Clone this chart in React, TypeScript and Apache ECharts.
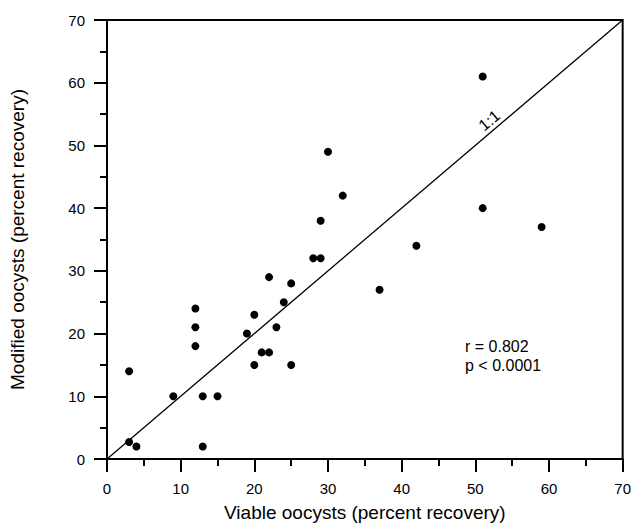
import React, { useEffect, useRef } from "react";
import * as echarts from "echarts";

const viable = [3, 3, 4, 9, 12, 12, 12, 13, 13, 15, 19, 20, 20, 21, 22, 22, 23, 24, 25, 25, 28, 29, 29, 30, 32, 37, 42, 51, 51, 59];
const modified = [14, 2.7, 2, 10, 24, 21, 18, 10, 2, 10, 20, 23, 15, 17, 17, 29, 21, 25, 28, 15, 32, 32, 38, 49, 42, 27, 34, 61, 40, 37];
const axisTicks = [0, 10, 20, 30, 40, 50, 60, 70];
const identityLine = [[0, 0], [70, 70]];
const identityLabelAt = 52.6;
const statsLines = ["r = 0.802", "p < 0.0001"];

const FONT = "Liberation Sans, Arial, Helvetica, sans-serif";

export default function App() {
  const ref = useRef<HTMLDivElement>(null);
  useEffect(() => {
    if (!ref.current) return;
    const chart = echarts.init(ref.current, undefined, { renderer: "svg" });
    const axisMin = axisTicks[0];
    const axisMax = axisTicks[axisTicks.length - 1];
    const interval = axisTicks[1] - axisTicks[0];
    const axisCommon = {
      type: "value" as const,
      min: axisMin,
      max: axisMax,
      interval,
      axisLine: { show: true, onZero: false, lineStyle: { color: "#000", width: 2 } },
      axisTick: { show: true, inside: false, length: 13, lineStyle: { color: "#000", width: 2 } },
      minorTick: { show: true, splitNumber: 2, length: 7, lineStyle: { color: "#000", width: 2 } },
      splitLine: { show: false },
      minorSplitLine: { show: false },
      axisLabel: { color: "#000", fontSize: 15, fontFamily: FONT, margin: 22 },
      nameLocation: "middle" as const,
      nameTextStyle: { color: "#000", fontSize: 19, fontFamily: FONT },
    };
    chart.setOption({
      animation: false,
      backgroundColor: "#fff",
      grid: {
        left: 105,
        right: 11,
        top: 20,
        bottom: 68,
        show: true,
        borderColor: "#000",
        borderWidth: 2,
        backgroundColor: "transparent",
      },
      xAxis: { ...axisCommon, name: "Viable oocysts (percent recovery)", nameGap: 44 },
      yAxis: { ...axisCommon, name: "Modified oocysts (percent recovery)", nameGap: 80 },
      series: [
        {
          type: "line",
          data: identityLine,
          showSymbol: false,
          symbol: "none",
          lineStyle: { color: "#000", width: 1.3 },
          silent: true,
          z: 2,
        },
        {
          type: "scatter",
          data: [[identityLabelAt, identityLabelAt]],
          symbol: "circle",
          symbolSize: 1,
          silent: true,
          itemStyle: { color: "rgba(0,0,0,0)" },
          label: {
            show: true,
            formatter: "1:1",
            position: "top",
            distance: 2,
            rotate: 40,
            color: "#000",
            opacity: 1,
            textBorderWidth: 0,
            fontSize: 16,
            fontFamily: FONT,
          },
          z: 4,
        },
        {
          type: "scatter",
          data: viable.map((v, i) => [v, modified[i]]),
          symbol: "circle",
          symbolSize: 8,
          itemStyle: { color: "#000", opacity: 1 },
          z: 3,
        },
      ],
      graphic: [
        {
          type: "text",
          left: 465,
          top: 337,
          style: {
            text: statsLines.join("\n"),
            fill: "#000",
            fontSize: 16,
            fontFamily: FONT,
            lineHeight: 19,
          },
        },
      ],
    });
    return () => chart.dispose();
  }, []);
  return (
    <div
      ref={ref}
      style={{ position: "fixed", left: 0, top: 0, width: 634, height: 527, background: "#fff" }}
    />
  );
}
